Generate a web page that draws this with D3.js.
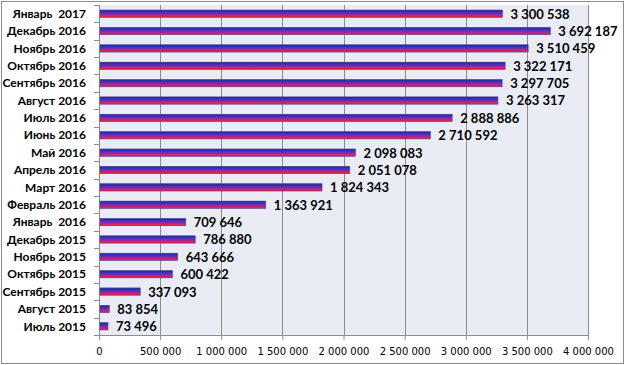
<!DOCTYPE html>
<html>
<head>
<meta charset="utf-8">
<script src="https://cdn.jsdelivr.net/npm/d3@7"></script>
<style>
  body { margin: 0; background: #fff; }
  .cat text { font-family: Lato, "Open Sans", sans-serif; font-weight: bold; font-size: 12px; fill: #000; }
  .val { font-family: Lato, "Open Sans", sans-serif; font-weight: bold; font-size: 13px; fill: #000; }
  .xax text { font-family: "DejaVu Sans", sans-serif; font-size: 10px; fill: #000; }
</style>
</head>
<body>
<div id="chart"></div>
<script>
// months, top to bottom
var months = ["Январь  2017", "Декабрь 2016", "Ноябрь 2016", "Октябрь 2016", "Сентябрь 2016",
    "Август 2016", "Июль 2016", "Июнь 2016", "Май 2016", "Апрель 2016", "Март 2016",
    "Февраль 2016", "Январь  2016", "Декабрь 2015", "Ноябрь 2015", "Октябрь 2015",
    "Сентябрь 2015", "Август 2015", "Июль 2015"];
var values = [3300538, 3692187, 3510459, 3322171, 3297705, 3263317, 2888886, 2710592,
    2098083, 2051078, 1824343, 1363921, 709646, 786880, 643666, 600422, 337093, 83854, 73496];
var xTicks = [0, 500000, 1000000, 1500000, 2000000, 2500000, 3000000, 3500000, 4000000];

var W = 625, H = 365;
var margin = {top: 5, right: 37, bottom: 30, left: 99},
    width = W - margin.left - margin.right,
    height = H - margin.top - margin.bottom;

var svg = d3.select("#chart").append("svg")
    .attr("width", W)
    .attr("height", H);

// outer border
svg.append("rect")
    .attr("x", 1.5).attr("y", 1.5)
    .attr("width", W - 3).attr("height", H - 3)
    .attr("fill", "#fff")
    .attr("stroke", "#8c8c8c");

var defs = svg.append("defs");
var grad = defs.append("linearGradient")
    .attr("id", "barGrad")
    .attr("x1", 0).attr("y1", 0).attr("x2", 0).attr("y2", 1);
grad.append("stop").attr("offset", "0%").attr("stop-color", "#26268a");
grad.append("stop").attr("offset", "25%").attr("stop-color", "#3030c8");
grad.append("stop").attr("offset", "55%").attr("stop-color", "#8a28a8");
grad.append("stop").attr("offset", "80%").attr("stop-color", "#d8225e");
grad.append("stop").attr("offset", "100%").attr("stop-color", "#e8204a");

var g = svg.append("g")
    .attr("transform", "translate(" + margin.left + "," + margin.top + ")");

var x = d3.scaleLinear().domain([0, 4000000]).range([0, width]);
var y = d3.scaleBand().domain(months).range([0, height]).paddingInner(0.58).paddingOuter(0.29);

// plot background
g.append("rect")
    .attr("width", width).attr("height", height)
    .attr("fill", "#e9ecf5");

// vertical grid lines
g.selectAll(".grid")
    .data(xTicks.slice(1))
    .enter().append("line")
    .attr("x1", function(d) { return Math.round(x(d)) + 0.5; })
    .attr("x2", function(d) { return Math.round(x(d)) + 0.5; })
    .attr("y1", 0).attr("y2", height)
    .attr("stroke", "#8c8c8c");

// x axis
var xAxis = g.append("g")
    .attr("class", "xax")
    .attr("transform", "translate(0," + height + ")")
    .call(d3.axisBottom(x).tickValues(xTicks).tickSize(5).tickPadding(8)
        .tickFormat(function(d) { return d3.format(",")(d).replace(/,/g, " "); }));
xAxis.select(".domain").attr("stroke", "#8c8c8c");
xAxis.selectAll("line").attr("stroke", "#8c8c8c");

// y axis with boundary ticks
var yAxis = g.append("g").attr("class", "cat");
yAxis.append("line")
    .attr("x1", 0.5).attr("x2", 0.5).attr("y1", 0).attr("y2", height)
    .attr("stroke", "#8c8c8c");
yAxis.selectAll(".tk")
    .data(d3.range(months.length + 1))
    .enter().append("line")
    .attr("x1", -5).attr("x2", 0)
    .attr("y1", function(i) { return Math.round(i * height / months.length) + 0.5; })
    .attr("y2", function(i) { return Math.round(i * height / months.length) + 0.5; })
    .attr("stroke", "#8c8c8c");
yAxis.selectAll("text")
    .data(months)
    .enter().append("text")
    .attr("x", -13)
    .attr("y", function(d) { return y(d) + y.bandwidth() / 2; })
    .attr("dy", "0.35em")
    .attr("text-anchor", "end")
    .style("white-space", "pre")
    .attr("xml:space", "preserve")
    .text(function(d) { return d; });

// bars
g.selectAll(".bar")
    .data(values)
    .enter().append("rect")
    .attr("x", 1)
    .attr("y", function(d, i) { return y(months[i]); })
    .attr("width", function(d) { return x(d) - 1; })
    .attr("height", y.bandwidth())
    .attr("fill", "url(#barGrad)")
    .attr("stroke", "#4a3f8f")
    .attr("stroke-width", 0.6);

// value labels
g.selectAll(".val")
    .data(values)
    .enter().append("text")
    .attr("class", "val")
    .attr("x", function(d) { return x(d) + 8; })
    .attr("y", function(d, i) { return y(months[i]) + y.bandwidth() / 2; })
    .attr("dy", "0.38em")
    .text(function(d) { return d3.format(",")(d).replace(/,/g, " "); });
</script>
</body>
</html>
